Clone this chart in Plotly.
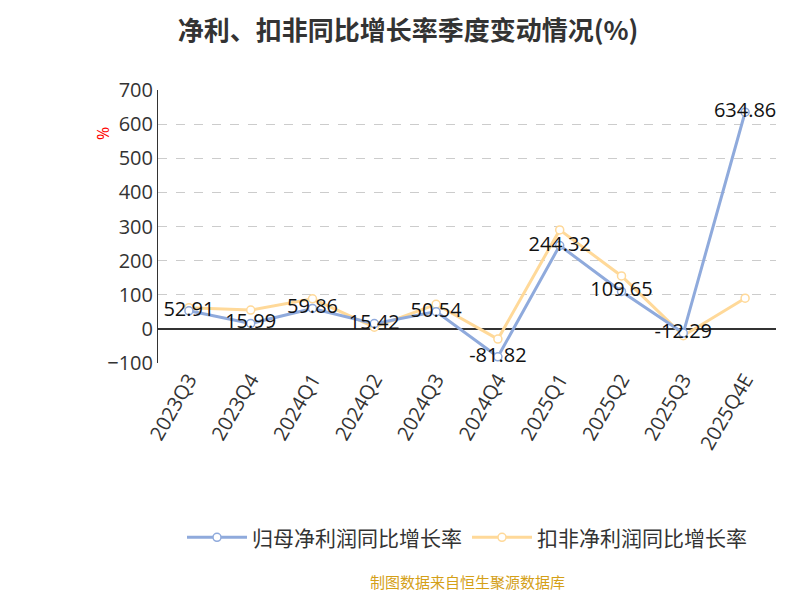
import plotly.graph_objects as go

quarters = ["2023Q3","2023Q4","2024Q1","2024Q2","2024Q3","2024Q4","2025Q1","2025Q2","2025Q3","2025Q4E"]
net_growth = [52.91, 15.99, 59.86, 15.42, 50.54, -81.82, 244.32, 109.65, -12.29, 634.86]
deducted_growth = [62, 55, 88, 5, 72, -30, 290, 155, -20, 90]

fig = go.Figure()
fig.add_trace(go.Scatter(x=quarters, y=deducted_growth, mode="lines+markers", name="扣非净利润同比增长率",
    line=dict(color="#ffd999", width=3), marker=dict(size=8, color="white", line=dict(color="#ffd999", width=1.5))))
fig.add_trace(go.Scatter(x=quarters, y=net_growth, mode="lines+markers+text", name="归母净利润同比增长率",
    line=dict(color="#8faadc", width=3), marker=dict(size=8, color="white", line=dict(color="#8faadc", width=1.5)),
    text=[f"{v:.2f}" for v in net_growth], textposition="middle center", textfont=dict(size=20, color="#111")))

fig.update_layout(
    width=800, height=600, paper_bgcolor="white", plot_bgcolor="white",
    font=dict(family="Open Sans, Noto Sans CJK SC", color="#333"),
    title=dict(text="<b>净利、扣非同比增长率季度变动情况(%)</b>", x=0.5, y=0.962, xanchor="center", yanchor="middle",
               font=dict(size=26, color="#333", family="Noto Sans CJK SC")),
    margin=dict(l=150, r=32, t=82, b=245),
    showlegend=True,
    legend=dict(orientation="h", x=0.5, xanchor="center", y=-0.64, yanchor="middle", font=dict(size=21, family="Noto Sans CJK SC"),
                traceorder="reversed", itemwidth=60),
    xaxis=dict(tickangle=-60, tickfont=dict(size=20), showgrid=False, showline=False, ticks="", range=[-0.5, 9.5]),
    yaxis=dict(range=[-100, 700], dtick=100, tickfont=dict(size=20), showgrid=True, gridcolor="#ccc", griddash="dash",
               showline=True, linecolor="#333", zeroline=True, zerolinecolor="#333", zerolinewidth=1.5),
)
fig.add_annotation(text="%", x=-0.11, y=0.87, xref="paper", yref="paper", showarrow=False, textangle=-90, font=dict(color="red", size=16))
fig.add_annotation(text="制图数据来自恒生聚源数据库", x=0.5, y=-0.8, yanchor="middle", xref="paper", yref="paper", showarrow=False,
                   font=dict(color="#d4a017", size=15, family="Noto Sans CJK SC"))
fig.write_html("out.html")
